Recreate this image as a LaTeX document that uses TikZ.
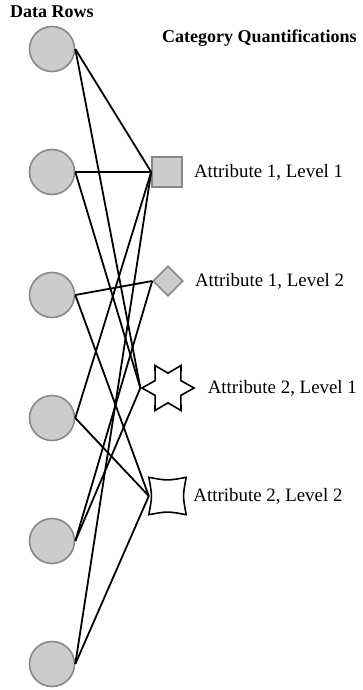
\documentclass[tikz,border=0pt]{standalone}
\usepackage{fontspec}
\setmainfont{Liberation Serif}
\usetikzlibrary{shapes.geometric,positioning}
\definecolor{dotfill}{HTML}{CCCCCC}
\definecolor{dotline}{HTML}{888888}
\tikzset{
	rowdot/.style={circle,draw=dotline,fill=dotfill,line width=1.6pt,minimum size=45pt,inner sep=0pt},
	catgray/.style={draw=dotline,fill=dotfill,line width=1.6pt,inner sep=0pt},
	catwhite/.style={draw=black,fill=white,line width=1.6pt,inner sep=0pt},
	catlabel/.style={inner sep=0pt,font=\fontsize{18.9}{22}\selectfont},
	header/.style={inner sep=0pt,anchor=west,font=\fontsize{18}{21}\selectfont\bfseries},
	link/.style={line width=1.8pt,black}
}
\begin{document}
\begin{tikzpicture}[x=1pt,y=-1pt]
		\useasboundingbox (0,0) rectangle (362,690);
		
		% Data rows: index / y-coordinate
		\foreach \i/\y in {1/49,2/172,3/295,4/418,5/541,6/664} {
			\node[rowdot] (r\i) at (52,\y) {};
		}
		
		% Category quantifications
		\node[catgray,rectangle,minimum size=30pt] (q1) at (167,172) {};
		\node[catgray,diamond,minimum size=30pt] (q2) at (168,281) {};
		\node[catwhite,star,star points=6,star point ratio=1.75,shape border rotate=90,minimum size=52pt] (q3) at (168,388) {};
		\node[inner sep=0pt,minimum size=37pt] (q4) at (167.5,496) {};
		\draw[catwhite] (q4.north west) .. controls ([yshift=-3.5pt]q4.north) .. (q4.north east)
			.. controls ([xshift=-3.5pt]q4.east) .. (q4.south east)
			.. controls ([yshift=3.5pt]q4.south) .. (q4.south west)
			.. controls ([xshift=3.5pt]q4.west) .. cycle;
		
		\node[catlabel,right=11pt of q1] (l1) {Attribute 1, Level 1};
		\node[catlabel,right=11pt of q2] (l2) {Attribute 1, Level 2};
		\node[catlabel,right=12pt of q3] (l3) {Attribute 2, Level 1};
		\node[catlabel,right=7pt of q4] (l4) {Attribute 2, Level 2};
		
		\node[header] (hrows) at (10,12) {Data Rows};
		\node[header] (hcats) at (162,38) {Category Quantifications};
		
		% Row / level links
		\foreach \r/\q in {1/1,1/3,2/1,2/3,3/2,3/4,4/1,4/4,5/2,5/3,6/1,6/4} {
			\draw[link] (r\r.east) -- (q\q.west);
		}
		
	\end{tikzpicture}
\end{document}
